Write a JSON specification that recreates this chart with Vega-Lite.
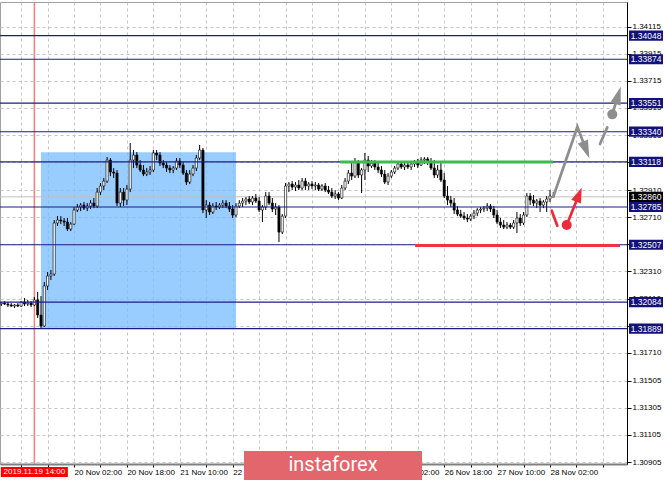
{
  "$schema": "https://vega.github.io/schema/vega-lite/v6.json",
  "width": 627,
  "height": 462,
  "autosize": {"type": "none"},
  "padding": {"left": 0, "top": 2, "right": 38, "bottom": 18},
  "background": "white",
  "config": {
    "view": {"stroke": "#a0a0a0", "strokeWidth": 1},
    "axis": {"labelFont": "Liberation Sans", "labelFontSize": 8, "labelColor": "#000000", "gridColor": "#c4c4c4", "gridDash": [3, 3], "gridWidth": 1, "tickColor": "#000000", "labelOverlap": false}
  },
  "datasets": {
    "zone": [{"h1": 16, "h2": 75, "p1": 1.33188, "p2": 1.31891}],
    "levels": [{"p": 1.34048}, {"p": 1.33874}, {"p": 1.33551}, {"p": 1.3334}, {"p": 1.33118}, {"p": 1.32785}, {"p": 1.32507}, {"p": 1.32084}, {"p": 1.31889}],
    "bid": [{"p": 1.3286}],
    "event": [{"h": 14, "p": 1.30832, "label": "2019.11.19 14:00"}],
    "segments": [
      {"name": "support", "h1": 106.5, "h2": 170.9, "p": 1.33116},
      {"name": "resistance", "h1": 129.2, "h2": 191.2, "p": 1.32502}
    ],
    "arrows": [
      {"seg": "g1", "k": 1, "h": 171.0, "p": 1.32861, "kind": "gray"},
      {"seg": "g1", "k": 2, "h": 178.3, "p": 1.33377, "kind": "gray"},
      {"seg": "g1", "k": 3, "h": 180.93, "p": 1.33206, "kind": "gray"},
      {"seg": "g2", "k": 1, "h": 185.13, "p": 1.33249, "kind": "gray"},
      {"seg": "g2", "k": 2, "h": 187.34, "p": 1.33372, "kind": "gray"},
      {"seg": "g3", "k": 1, "h": 188.85, "p": 1.33468, "kind": "gray"},
      {"seg": "g3", "k": 2, "h": 190.61, "p": 1.33608, "kind": "gray"},
      {"seg": "r1", "k": 1, "h": 170.52, "p": 1.32758, "kind": "red"},
      {"seg": "r1", "k": 2, "h": 172.21, "p": 1.32647, "kind": "red"},
      {"seg": "r2", "k": 1, "h": 175.06, "p": 1.32652, "kind": "red"},
      {"seg": "r2", "k": 2, "h": 178.75, "p": 1.32876, "kind": "red"}
    ],
    "dots": [
      {"h": 188.85, "p": 1.33468, "kind": "gray"},
      {"h": 175.06, "p": 1.32652, "kind": "red"}
    ],
    "candles": [
      {"h":4,"o":1.3207,"hi":1.32085,"lo":1.32055,"c":1.32077},
      {"h":5,"o":1.32077,"hi":1.32092,"lo":1.32063,"c":1.3207},
      {"h":6,"o":1.3207,"hi":1.32085,"lo":1.32048,"c":1.32063},
      {"h":7,"o":1.32063,"hi":1.32077,"lo":1.32048,"c":1.32055},
      {"h":8,"o":1.32055,"hi":1.3207,"lo":1.32041,"c":1.32063},
      {"h":9,"o":1.32063,"hi":1.32077,"lo":1.32048,"c":1.32055},
      {"h":10,"o":1.32055,"hi":1.32092,"lo":1.32048,"c":1.32085},
      {"h":11,"o":1.32085,"hi":1.32114,"lo":1.32055,"c":1.3207},
      {"h":12,"o":1.3207,"hi":1.321,"lo":1.32055,"c":1.32077},
      {"h":13,"o":1.32077,"hi":1.32092,"lo":1.32048,"c":1.32063},
      {"h":14,"o":1.32063,"hi":1.32122,"lo":1.32055,"c":1.321},
      {"h":15,"o":1.321,"hi":1.32159,"lo":1.31967,"c":1.31989},
      {"h":16,"o":1.31989,"hi":1.32129,"lo":1.31886,"c":1.31908},
      {"h":17,"o":1.31908,"hi":1.32232,"lo":1.31901,"c":1.32203},
      {"h":18,"o":1.32203,"hi":1.32306,"lo":1.32173,"c":1.32277},
      {"h":19,"o":1.32277,"hi":1.32321,"lo":1.32247,"c":1.32291},
      {"h":20,"o":1.32291,"hi":1.32689,"lo":1.32277,"c":1.32667},
      {"h":21,"o":1.32667,"hi":1.32718,"lo":1.32645,"c":1.32689},
      {"h":22,"o":1.32689,"hi":1.32718,"lo":1.32659,"c":1.32682},
      {"h":23,"o":1.32682,"hi":1.32704,"lo":1.32645,"c":1.32674},
      {"h":24,"o":1.32674,"hi":1.32704,"lo":1.32608,"c":1.32623},
      {"h":25,"o":1.32623,"hi":1.32674,"lo":1.32608,"c":1.32659},
      {"h":26,"o":1.32659,"hi":1.32785,"lo":1.32652,"c":1.32763},
      {"h":27,"o":1.32763,"hi":1.32807,"lo":1.32748,"c":1.32785},
      {"h":28,"o":1.32785,"hi":1.32814,"lo":1.32755,"c":1.32799},
      {"h":29,"o":1.32799,"hi":1.32822,"lo":1.32763,"c":1.32777},
      {"h":30,"o":1.32777,"hi":1.32814,"lo":1.32755,"c":1.32792},
      {"h":31,"o":1.32792,"hi":1.32836,"lo":1.3277,"c":1.32814},
      {"h":32,"o":1.32814,"hi":1.32851,"lo":1.32777,"c":1.32792},
      {"h":33,"o":1.32792,"hi":1.32925,"lo":1.32777,"c":1.32895},
      {"h":34,"o":1.32895,"hi":1.32962,"lo":1.32873,"c":1.3294},
      {"h":35,"o":1.3294,"hi":1.32999,"lo":1.3291,"c":1.32976},
      {"h":36,"o":1.32976,"hi":1.33153,"lo":1.32962,"c":1.33131},
      {"h":37,"o":1.33131,"hi":1.33146,"lo":1.33013,"c":1.33043},
      {"h":38,"o":1.33043,"hi":1.33072,"lo":1.32999,"c":1.33035},
      {"h":39,"o":1.33035,"hi":1.33058,"lo":1.32792,"c":1.32814},
      {"h":40,"o":1.32814,"hi":1.32925,"lo":1.32785,"c":1.32895},
      {"h":41,"o":1.32895,"hi":1.32925,"lo":1.32792,"c":1.32836},
      {"h":42,"o":1.32836,"hi":1.32947,"lo":1.32799,"c":1.32917},
      {"h":43,"o":1.32917,"hi":1.33257,"lo":1.32895,"c":1.33131},
      {"h":44,"o":1.33131,"hi":1.33205,"lo":1.33072,"c":1.33168},
      {"h":45,"o":1.33168,"hi":1.3319,"lo":1.33072,"c":1.33094},
      {"h":46,"o":1.33094,"hi":1.33131,"lo":1.33043,"c":1.33058},
      {"h":47,"o":1.33058,"hi":1.33094,"lo":1.33013,"c":1.33028},
      {"h":48,"o":1.33028,"hi":1.33072,"lo":1.33013,"c":1.33043},
      {"h":49,"o":1.33043,"hi":1.33087,"lo":1.33021,"c":1.33058},
      {"h":50,"o":1.33058,"hi":1.33205,"lo":1.33043,"c":1.33183},
      {"h":51,"o":1.33183,"hi":1.33205,"lo":1.33131,"c":1.33168},
      {"h":52,"o":1.33168,"hi":1.3319,"lo":1.33087,"c":1.33109},
      {"h":53,"o":1.33109,"hi":1.33131,"lo":1.33072,"c":1.33094},
      {"h":54,"o":1.33094,"hi":1.33116,"lo":1.33043,"c":1.33072},
      {"h":55,"o":1.33072,"hi":1.33094,"lo":1.33035,"c":1.33058},
      {"h":56,"o":1.33058,"hi":1.33087,"lo":1.33035,"c":1.33072},
      {"h":57,"o":1.33072,"hi":1.33146,"lo":1.33058,"c":1.33124},
      {"h":58,"o":1.33124,"hi":1.33146,"lo":1.33072,"c":1.33094},
      {"h":59,"o":1.33094,"hi":1.33116,"lo":1.33021,"c":1.33035},
      {"h":60,"o":1.33035,"hi":1.33058,"lo":1.32947,"c":1.32969},
      {"h":61,"o":1.32969,"hi":1.33058,"lo":1.32954,"c":1.33028},
      {"h":62,"o":1.33028,"hi":1.33094,"lo":1.33013,"c":1.33072},
      {"h":63,"o":1.33072,"hi":1.33168,"lo":1.3305,"c":1.33146},
      {"h":64,"o":1.33146,"hi":1.33242,"lo":1.33131,"c":1.33205},
      {"h":65,"o":1.33205,"hi":1.3322,"lo":1.3274,"c":1.32763},
      {"h":66,"o":1.32763,"hi":1.32836,"lo":1.32704,"c":1.32799},
      {"h":67,"o":1.32799,"hi":1.32822,"lo":1.32726,"c":1.32748},
      {"h":68,"o":1.32748,"hi":1.32814,"lo":1.32733,"c":1.32792},
      {"h":69,"o":1.32792,"hi":1.32822,"lo":1.32763,"c":1.32785},
      {"h":70,"o":1.32785,"hi":1.32814,"lo":1.3277,"c":1.32799},
      {"h":71,"o":1.32799,"hi":1.32836,"lo":1.32777,"c":1.32814},
      {"h":72,"o":1.32814,"hi":1.32836,"lo":1.32777,"c":1.32792},
      {"h":73,"o":1.32792,"hi":1.32822,"lo":1.32748,"c":1.3277},
      {"h":74,"o":1.3277,"hi":1.32799,"lo":1.32704,"c":1.32726},
      {"h":75,"o":1.32726,"hi":1.32814,"lo":1.32711,"c":1.32792},
      {"h":76,"o":1.32792,"hi":1.32836,"lo":1.32777,"c":1.32814},
      {"h":77,"o":1.32814,"hi":1.32851,"lo":1.32785,"c":1.32829},
      {"h":78,"o":1.32829,"hi":1.32858,"lo":1.32799,"c":1.32844},
      {"h":79,"o":1.32844,"hi":1.32866,"lo":1.32807,"c":1.32822},
      {"h":80,"o":1.32822,"hi":1.32866,"lo":1.32799,"c":1.32851},
      {"h":81,"o":1.32851,"hi":1.32881,"lo":1.32814,"c":1.32829},
      {"h":82,"o":1.32829,"hi":1.32858,"lo":1.32748,"c":1.32763},
      {"h":83,"o":1.32763,"hi":1.32799,"lo":1.32674,"c":1.32785},
      {"h":84,"o":1.32785,"hi":1.32895,"lo":1.32763,"c":1.32866},
      {"h":85,"o":1.32866,"hi":1.32895,"lo":1.32799,"c":1.32814},
      {"h":86,"o":1.32814,"hi":1.32851,"lo":1.32748,"c":1.3277},
      {"h":87,"o":1.3277,"hi":1.32814,"lo":1.32726,"c":1.32785},
      {"h":88,"o":1.32785,"hi":1.32799,"lo":1.32527,"c":1.326},
      {"h":89,"o":1.326,"hi":1.32733,"lo":1.32586,"c":1.32718},
      {"h":90,"o":1.32718,"hi":1.32962,"lo":1.32704,"c":1.3294},
      {"h":91,"o":1.3294,"hi":1.32969,"lo":1.32895,"c":1.32954},
      {"h":92,"o":1.32954,"hi":1.32976,"lo":1.3291,"c":1.32932},
      {"h":93,"o":1.32932,"hi":1.32969,"lo":1.32903,"c":1.32947},
      {"h":94,"o":1.32947,"hi":1.32984,"lo":1.3291,"c":1.32925},
      {"h":95,"o":1.32925,"hi":1.32999,"lo":1.3291,"c":1.32976},
      {"h":96,"o":1.32976,"hi":1.32999,"lo":1.3291,"c":1.3294},
      {"h":97,"o":1.3294,"hi":1.32969,"lo":1.3291,"c":1.32954},
      {"h":98,"o":1.32954,"hi":1.32976,"lo":1.32917,"c":1.3294},
      {"h":99,"o":1.3294,"hi":1.32969,"lo":1.3291,"c":1.32947},
      {"h":100,"o":1.32947,"hi":1.32962,"lo":1.32903,"c":1.32917},
      {"h":101,"o":1.32917,"hi":1.32954,"lo":1.32903,"c":1.3294},
      {"h":102,"o":1.3294,"hi":1.32962,"lo":1.32895,"c":1.3291},
      {"h":103,"o":1.3291,"hi":1.3294,"lo":1.32881,"c":1.32895},
      {"h":104,"o":1.32895,"hi":1.32925,"lo":1.32851,"c":1.32866},
      {"h":105,"o":1.32866,"hi":1.3291,"lo":1.32844,"c":1.32881},
      {"h":106,"o":1.32881,"hi":1.32895,"lo":1.32836,"c":1.32851},
      {"h":107,"o":1.32851,"hi":1.32947,"lo":1.32844,"c":1.32925},
      {"h":108,"o":1.32925,"hi":1.32999,"lo":1.3291,"c":1.32976},
      {"h":109,"o":1.32976,"hi":1.33058,"lo":1.32954,"c":1.33035},
      {"h":110,"o":1.33035,"hi":1.33116,"lo":1.32984,"c":1.33013},
      {"h":111,"o":1.33013,"hi":1.33146,"lo":1.32999,"c":1.33116},
      {"h":112,"o":1.33116,"hi":1.33131,"lo":1.32999,"c":1.33021},
      {"h":113,"o":1.33021,"hi":1.33072,"lo":1.32888,"c":1.33058},
      {"h":114,"o":1.33058,"hi":1.33183,"lo":1.32984,"c":1.33131},
      {"h":115,"o":1.33131,"hi":1.33161,"lo":1.33043,"c":1.33087},
      {"h":116,"o":1.33087,"hi":1.33131,"lo":1.33072,"c":1.33109},
      {"h":117,"o":1.33109,"hi":1.33131,"lo":1.33058,"c":1.3308},
      {"h":118,"o":1.3308,"hi":1.33116,"lo":1.33035,"c":1.33058},
      {"h":119,"o":1.33058,"hi":1.33087,"lo":1.33006,"c":1.33028},
      {"h":120,"o":1.33028,"hi":1.33058,"lo":1.32954,"c":1.32969},
      {"h":121,"o":1.32969,"hi":1.33035,"lo":1.32947,"c":1.33013},
      {"h":122,"o":1.33013,"hi":1.33058,"lo":1.32999,"c":1.33043},
      {"h":123,"o":1.33043,"hi":1.33087,"lo":1.33028,"c":1.33072},
      {"h":124,"o":1.33072,"hi":1.33116,"lo":1.33058,"c":1.33102},
      {"h":125,"o":1.33102,"hi":1.33124,"lo":1.33065,"c":1.3308},
      {"h":126,"o":1.3308,"hi":1.33109,"lo":1.33058,"c":1.33094},
      {"h":127,"o":1.33094,"hi":1.33124,"lo":1.33065,"c":1.3308},
      {"h":128,"o":1.3308,"hi":1.33109,"lo":1.33058,"c":1.33102},
      {"h":129,"o":1.33102,"hi":1.33131,"lo":1.3308,"c":1.33116},
      {"h":130,"o":1.33116,"hi":1.33139,"lo":1.33072,"c":1.33094},
      {"h":131,"o":1.33094,"hi":1.33153,"lo":1.33087,"c":1.33131},
      {"h":132,"o":1.33131,"hi":1.33153,"lo":1.33102,"c":1.33139},
      {"h":133,"o":1.33139,"hi":1.33153,"lo":1.33094,"c":1.33116},
      {"h":134,"o":1.33116,"hi":1.33146,"lo":1.33058,"c":1.33072},
      {"h":135,"o":1.33072,"hi":1.33131,"lo":1.32999,"c":1.33021},
      {"h":136,"o":1.33021,"hi":1.33094,"lo":1.32999,"c":1.33058},
      {"h":137,"o":1.33058,"hi":1.33109,"lo":1.32969,"c":1.32984},
      {"h":138,"o":1.32984,"hi":1.33035,"lo":1.32851,"c":1.32866},
      {"h":139,"o":1.32866,"hi":1.3294,"lo":1.32799,"c":1.32836},
      {"h":140,"o":1.32836,"hi":1.32866,"lo":1.32785,"c":1.32814},
      {"h":141,"o":1.32814,"hi":1.32851,"lo":1.32733,"c":1.32763},
      {"h":142,"o":1.32763,"hi":1.32792,"lo":1.32718,"c":1.32733},
      {"h":143,"o":1.32733,"hi":1.32763,"lo":1.32704,"c":1.32718},
      {"h":144,"o":1.32718,"hi":1.32748,"lo":1.32689,"c":1.32704},
      {"h":145,"o":1.32704,"hi":1.32733,"lo":1.32674,"c":1.32696},
      {"h":146,"o":1.32696,"hi":1.32733,"lo":1.32682,"c":1.32718},
      {"h":147,"o":1.32718,"hi":1.32763,"lo":1.32696,"c":1.3274},
      {"h":148,"o":1.3274,"hi":1.32777,"lo":1.32718,"c":1.32763},
      {"h":149,"o":1.32763,"hi":1.32785,"lo":1.3274,"c":1.3277},
      {"h":150,"o":1.3277,"hi":1.32792,"lo":1.32748,"c":1.32777},
      {"h":151,"o":1.32777,"hi":1.32814,"lo":1.32755,"c":1.32792},
      {"h":152,"o":1.32792,"hi":1.32807,"lo":1.32748,"c":1.3277},
      {"h":153,"o":1.3277,"hi":1.32792,"lo":1.32704,"c":1.32726},
      {"h":154,"o":1.32726,"hi":1.32763,"lo":1.32659,"c":1.32674},
      {"h":155,"o":1.32674,"hi":1.32704,"lo":1.3263,"c":1.32652},
      {"h":156,"o":1.32652,"hi":1.32689,"lo":1.32623,"c":1.32637},
      {"h":157,"o":1.32637,"hi":1.32674,"lo":1.32623,"c":1.32652},
      {"h":158,"o":1.32652,"hi":1.32667,"lo":1.32623,"c":1.32637},
      {"h":159,"o":1.32637,"hi":1.32689,"lo":1.32623,"c":1.32667},
      {"h":160,"o":1.32667,"hi":1.32748,"lo":1.32593,"c":1.32704},
      {"h":161,"o":1.32704,"hi":1.32733,"lo":1.32645,"c":1.32667},
      {"h":162,"o":1.32667,"hi":1.32748,"lo":1.32652,"c":1.32726},
      {"h":163,"o":1.32726,"hi":1.32888,"lo":1.32711,"c":1.32866},
      {"h":164,"o":1.32866,"hi":1.32888,"lo":1.32799,"c":1.32836},
      {"h":165,"o":1.32836,"hi":1.32873,"lo":1.32792,"c":1.32814},
      {"h":166,"o":1.32814,"hi":1.32844,"lo":1.32777,"c":1.32829},
      {"h":167,"o":1.32829,"hi":1.32851,"lo":1.32748,"c":1.32799},
      {"h":168,"o":1.32799,"hi":1.32836,"lo":1.32777,"c":1.32822},
      {"h":169,"o":1.32822,"hi":1.32866,"lo":1.32748,"c":1.32844},
      {"h":170,"o":1.32844,"hi":1.3291,"lo":1.32822,"c":1.32866},
      {"h":171,"o":1.32866,"hi":1.32895,"lo":1.32851,"c":1.3286}
    ]
  },
  "layer": [
    {
      "data": {"name": "zone"},
      "mark": {"type": "rect", "color": "#77bbff", "opacity": 0.75},
      "encoding": {
        "x": {"field": "h1", "type": "quantitative", "title": null,
          "scale": {"domain": [3.6, 193.3], "nice": false, "zero": false, "padding": 0},
          "axis": {"title": null, "tickCount": 40, "values": [10, 18, 26, 34, 42, 50, 58, 66, 74, 82, 90, 98, 106, 114, 122, 130, 138, 146, 154, 162, 170, 178, 186],
            "labelExpr": "datum.value == 26 ? '20 Nov 02:00' : datum.value == 42 ? '20 Nov 18:00' : datum.value == 58 ? '21 Nov 10:00' : datum.value == 74 ? '22 Nov 02:00' : datum.value == 122 ? '26 Nov 02:00' : datum.value == 138 ? '26 Nov 18:00' : datum.value == 154 ? '27 Nov 10:00' : datum.value == 170 ? '28 Nov 02:00' : ''",
            "grid": true, "tickSize": 3, "labelAlign": "left", "labelPadding": 1, "labelFlush": false, "labelOverlap": false, "labelBound": false,
            "domainColor": "#808080", "domainWidth": 2}},
        "x2": {"field": "h2"},
        "y": {"field": "p1", "type": "quantitative", "title": null,
          "scale": {"domain": [1.30891, 1.34296], "nice": false, "zero": false, "padding": 0},
          "axis": {"title": null, "orient": "right", "tickCount": 40, "values": [1.34115, 1.33915, 1.33715, 1.33515, 1.33315, 1.33115, 1.3291, 1.3271, 1.3251, 1.3231, 1.3211, 1.3191, 1.3171, 1.31505, 1.31305, 1.31105, 1.30905],
            "labelExpr": "indexof(['1.33115', '1.32510', '1.31910'], format(datum.value, '.5f')) >= 0 ? '' : format(datum.value, '.5f')",
            "grid": true, "tickSize": 4, "labelPadding": 1, "labelOverlap": false, "labelBound": false, "labelBaseline": "middle", "domainColor": "#000000", "domainWidth": 1}},
        "y2": {"field": "p2"}
      }
    },
    {
      "data": {"name": "bid"},
      "mark": {"type": "rule", "color": "#c0c0c0", "strokeWidth": 1},
      "encoding": {"y": {"field": "p", "type": "quantitative", "title": null}}
    },
    {
      "data": {"name": "event"},
      "mark": {"type": "rule", "color": "#ff7b7b", "strokeWidth": 1.5},
      "encoding": {"x": {"field": "h", "type": "quantitative", "title": null}}
    },
    {
      "data": {"name": "candles"},
      "mark": {"type": "rule", "color": "#000000", "strokeWidth": 1},
      "encoding": {
        "x": {"field": "h", "type": "quantitative", "title": null},
        "y": {"field": "lo", "type": "quantitative", "title": null},
        "y2": {"field": "hi"}
      }
    },
    {
      "data": {"name": "candles"},
      "mark": {"type": "bar", "width": 2.2, "stroke": "#000000", "strokeWidth": 0.6},
      "encoding": {
        "x": {"field": "h", "type": "quantitative", "title": null},
        "y": {"field": "o", "type": "quantitative", "title": null},
        "y2": {"field": "c"},
        "fill": {"condition": {"test": "datum.c < datum.o", "value": "#000000"}, "value": "#ffffff"}
      }
    },
    {
      "data": {"name": "levels"},
      "mark": {"type": "rule", "color": "#1c1c84", "strokeWidth": 1.1},
      "encoding": {"y": {"field": "p", "type": "quantitative", "title": null}}
    },
    {
      "data": {"name": "segments"},
      "transform": [{"filter": "datum.name == 'support'"}],
      "mark": {"type": "rule", "color": "#3fb950", "strokeWidth": 3},
      "encoding": {
        "x": {"field": "h1", "type": "quantitative", "title": null},
        "x2": {"field": "h2"},
        "y": {"field": "p", "type": "quantitative", "title": null}
      }
    },
    {
      "data": {"name": "segments"},
      "transform": [{"filter": "datum.name == 'resistance'"}],
      "mark": {"type": "rule", "color": "#ee3344", "strokeWidth": 3},
      "encoding": {
        "x": {"field": "h1", "type": "quantitative", "title": null},
        "x2": {"field": "h2"},
        "y": {"field": "p", "type": "quantitative", "title": null}
      }
    },
    {
      "data": {"name": "arrows"},
      "mark": {"type": "line", "strokeWidth": 2.7, "strokeCap": "round"},
      "encoding": {
        "x": {"field": "h", "type": "quantitative", "title": null},
        "y": {"field": "p", "type": "quantitative", "title": null},
        "detail": {"field": "seg"},
        "order": {"field": "k"},
        "color": {"field": "kind", "type": "nominal", "scale": {"domain": ["gray", "red"], "range": ["#8e8e8e", "#ee2a3a"]}, "legend": null}
      }
    },
    {
      "data": {"name": "dots"},
      "mark": {"type": "point", "shape": "circle", "filled": true, "opacity": 1, "size": 100},
      "encoding": {
        "x": {"field": "h", "type": "quantitative", "title": null},
        "y": {"field": "p", "type": "quantitative", "title": null},
        "color": {"field": "kind", "type": "nominal", "scale": {"domain": ["gray", "red"], "range": ["#8e8e8e", "#ee2a3a"]}, "legend": null}
      }
    },
    {
      "data": {"values": [{"h": 180.93, "p": 1.33206}]},
      "mark": {"type": "point", "shape": "M0,-1L0.6,1L-0.6,1Z", "filled": true, "opacity": 1, "size": 324, "angle": 159, "color": "#8e8e8e"},
      "encoding": {"x": {"field": "h", "type": "quantitative", "title": null}, "y": {"field": "p", "type": "quantitative", "title": null}}
    },
    {
      "data": {"values": [{"h": 190.61, "p": 1.33608}]},
      "mark": {"type": "point", "shape": "M0,-1L0.6,1L-0.6,1Z", "filled": true, "opacity": 1, "size": 324, "angle": 17, "color": "#8e8e8e"},
      "encoding": {"x": {"field": "h", "type": "quantitative", "title": null}, "y": {"field": "p", "type": "quantitative", "title": null}}
    },
    {
      "data": {"values": [{"h": 178.75, "p": 1.32876}]},
      "mark": {"type": "point", "shape": "M0,-1L0.7,1L-0.7,1Z", "filled": true, "opacity": 1, "size": 225, "angle": 22, "color": "#ee2a3a"},
      "encoding": {"x": {"field": "h", "type": "quantitative", "title": null}, "y": {"field": "p", "type": "quantitative", "title": null}}
    },
    {
      "data": {"name": "levels"},
      "mark": {"type": "point", "shape": "M-1,-0.3H1V0.3H-1Z", "filled": true, "opacity": 1, "size": 1156, "color": "#12127a"},
      "encoding": {"x": {"datum": 199.05, "type": "quantitative"}, "y": {"field": "p", "type": "quantitative", "title": null}}
    },
    {
      "data": {"name": "bid"},
      "mark": {"type": "point", "shape": "M-1,-0.3H1V0.3H-1Z", "filled": true, "opacity": 1, "size": 1156, "color": "#000000"},
      "encoding": {"x": {"datum": 199.05, "type": "quantitative"}, "y": {"field": "p", "type": "quantitative", "title": null}}
    },
    {
      "data": {"name": "levels"},
      "mark": {"type": "text", "color": "#ffffff", "font": "Liberation Sans", "fontSize": 8.5, "align": "center", "baseline": "middle"},
      "encoding": {"x": {"datum": 199.05, "type": "quantitative"}, "y": {"field": "p", "type": "quantitative", "title": null}, "text": {"field": "p", "type": "quantitative", "format": ".5f"}}
    },
    {
      "data": {"name": "bid"},
      "mark": {"type": "text", "color": "#ffffff", "font": "Liberation Sans", "fontSize": 8.5, "align": "center", "baseline": "middle"},
      "encoding": {"x": {"datum": 199.05, "type": "quantitative"}, "y": {"field": "p", "type": "quantitative", "title": null}, "text": {"field": "p", "type": "quantitative", "format": ".5f"}}
    },
    {
      "data": {"name": "event"},
      "mark": {"type": "point", "shape": "M-1,-0.15H1V0.15H-1Z", "filled": true, "opacity": 1, "size": 4489, "color": "#ff0000"},
      "encoding": {"x": {"field": "h", "type": "quantitative", "title": null}, "y": {"field": "p", "type": "quantitative", "title": null}}
    },
    {
      "data": {"name": "event"},
      "mark": {"type": "text", "color": "#ffffff", "font": "Liberation Sans", "fontSize": 8, "align": "center", "baseline": "middle"},
      "encoding": {"x": {"field": "h", "type": "quantitative", "title": null}, "y": {"field": "p", "type": "quantitative", "title": null}, "text": {"field": "label"}}
    },
    {
      "data": {"values": [{"h": 104.35, "p": 1.3088, "label": "instaforex"}]},
      "mark": {"type": "point", "shape": "M-1,-0.163H1V0.163H-1Z", "filled": true, "opacity": 1, "size": 31684, "color": "#e3666c"},
      "encoding": {"x": {"field": "h", "type": "quantitative", "title": null}, "y": {"field": "p", "type": "quantitative", "title": null}}
    },
    {
      "data": {"values": [{"h": 104.35, "p": 1.3088, "label": "instaforex"}]},
      "mark": {"type": "text", "color": "#ffffff", "font": "Roboto", "fontSize": 20, "align": "center", "baseline": "middle"},
      "encoding": {"x": {"field": "h", "type": "quantitative", "title": null}, "y": {"field": "p", "type": "quantitative", "title": null}, "text": {"field": "label"}}
    }
  ]
}
